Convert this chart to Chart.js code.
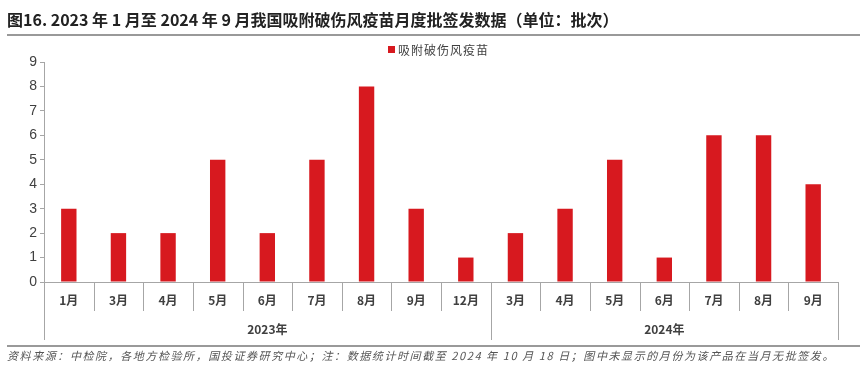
<!DOCTYPE html>
<html>
<head>
<meta charset="utf-8">
<script src="https://cdn.jsdelivr.net/npm/chart.js@4.4.1/dist/chart.umd.min.js"></script>
<style>
  html, body { margin: 0; padding: 0; background: #fff; }
  #wrap { width: 860px; height: 385px; position: relative; }
</style>
</head>
<body>
<div id="wrap"><canvas id="myBarChart"></canvas></div>
<script>
// data
const monthLabels = ["1月", "3月", "4月", "5月", "6月", "7月", "8月", "9月", "12月",
  "3月", "4月", "5月", "6月", "7月", "8月", "9月"];
const batchValues = [3, 2, 2, 5, 2, 5, 8, 3, 1, 2, 3, 5, 1, 6, 6, 4];
const yearLabels = ["2023年", "2024年"];
const yearCounts = [9, 7];
const yTicks = [0, 1, 2, 3, 4, 5, 6, 7, 8, 9];

const titleText = "图16. 2023 年 1 月至 2024 年 9 月我国吸附破伤风疫苗月度批签发数据（单位：批次）";
const seriesName = "吸附破伤风疫苗";
const footText = "资料来源：中检院，各地方检验所，国投证券研究中心；注：数据统计时间截至 2024 年 10 月 18 日；图中未显示的月份为该产品在当月无批签发。";

const barRed = "#d7191f";
const axisGray = "#a6a6a6";
const textGray = "#404040";
const cjk = '"Liberation Sans Narrow", "Noto Sans CJK SC", sans-serif';

// extra drawing: title, legend, two-level axis, footer
const decoPlugin = {
  id: "deco",
  afterDraw(chart) {
    const ctx = chart.ctx;
    const area = chart.chartArea;
    const x = chart.scales.x;
    const half = (x.getPixelForValue(1) - x.getPixelForValue(0)) / 2;
    ctx.save();

    // title
    ctx.fillStyle = "#222";
    ctx.font = "bold 16px " + cjk;
    ctx.textBaseline = "middle";
    ctx.textAlign = "left";
    ctx.fillText(titleText, 7, 20);
    ctx.fillStyle = "#999";
    ctx.fillRect(7, 34, 853, 2);

    // legend
    ctx.fillStyle = barRed;
    ctx.fillRect(388, 46, 7, 7);
    ctx.fillStyle = textGray;
    ctx.font = '12px "Noto Sans CJK SC", sans-serif';
    ctx.letterSpacing = "1px";
    ctx.fillText(seriesName, 398, 50);
    ctx.letterSpacing = "0px";

    // x axis line + separators
    ctx.strokeStyle = axisGray;
    ctx.lineWidth = 1;
    ctx.beginPath();
    ctx.moveTo(area.left, area.bottom + 0.5);
    ctx.lineTo(area.right, area.bottom + 0.5);
    const groupEdges = [0];
    yearCounts.forEach((n, i) => groupEdges.push(groupEdges[i] + n));
    for (let i = 0; i <= monthLabels.length; i++) {
      const px = Math.round(x.getPixelForValue(i) - half) + 0.5;
      const bottom = groupEdges.includes(i) ? area.bottom + 58 : area.bottom + 29;
      ctx.moveTo(px, area.bottom);
      ctx.lineTo(px, bottom);
    }
    ctx.stroke();

    // month labels
    ctx.fillStyle = textGray;
    ctx.font = "bold 12px " + cjk;
    ctx.textAlign = "center";
    monthLabels.forEach((m, i) => {
      ctx.fillText(m, x.getPixelForValue(i), area.bottom + 18);
    });

    // year labels
    yearLabels.forEach((y, g) => {
      const a = x.getPixelForValue(groupEdges[g]) - half;
      const b = x.getPixelForValue(groupEdges[g + 1]) - half;
      ctx.fillText(y, (a + b) / 2, area.bottom + 47);
    });

    // footer, spread to the same width as the source note
    ctx.fillStyle = "#999";
    ctx.fillRect(7, 345, 853, 2);
    ctx.fillStyle = "#555";
    ctx.font = 'italic 11px "Noto Sans CJK SC", sans-serif';
    ctx.textAlign = "left";
    const w = ctx.measureText(footText).width;
    const n = Array.from(footText).length;
    ctx.letterSpacing = ((828 - w) / n).toFixed(2) + "px";
    ctx.fillText(footText, 7, 356);
    ctx.restore();
  },
};

const batchData = {
  labels: monthLabels,
  datasets: [
    {
      label: seriesName,
      data: batchValues,
      backgroundColor: barRed,
      categoryPercentage: 1,
      barPercentage: 0.31,
    },
  ],
};

const batchConfig = {
  type: "bar",
  data: batchData,
  options: {
    responsive: false,
    animation: false,
    layout: {
      padding: { top: 62, bottom: 103, left: 0, right: 22 },
    },
    plugins: {
      legend: { display: false },
      tooltip: { enabled: false },
    },
    scales: {
      x: {
        display: false,
      },
      y: {
        min: 0,
        max: 9,
        afterFit: (s) => { s.width = 44; },
        afterBuildTicks: (s) => { s.ticks = yTicks.map((v) => ({ value: v })); },
        ticks: {
          color: textGray,
          font: { size: 14, family: '"Liberation Sans", Arial, sans-serif' },
          padding: 3,
        },
        grid: {
          drawOnChartArea: false,
          tickLength: 4,
          color: axisGray,
        },
        border: { color: axisGray },
      },
    },
  },
  plugins: [decoPlugin],
};

const canvas = document.getElementById("myBarChart");
canvas.width = 860;
canvas.height = 385;
const myChart = new Chart(canvas, batchConfig);
</script>
</body>
</html>
